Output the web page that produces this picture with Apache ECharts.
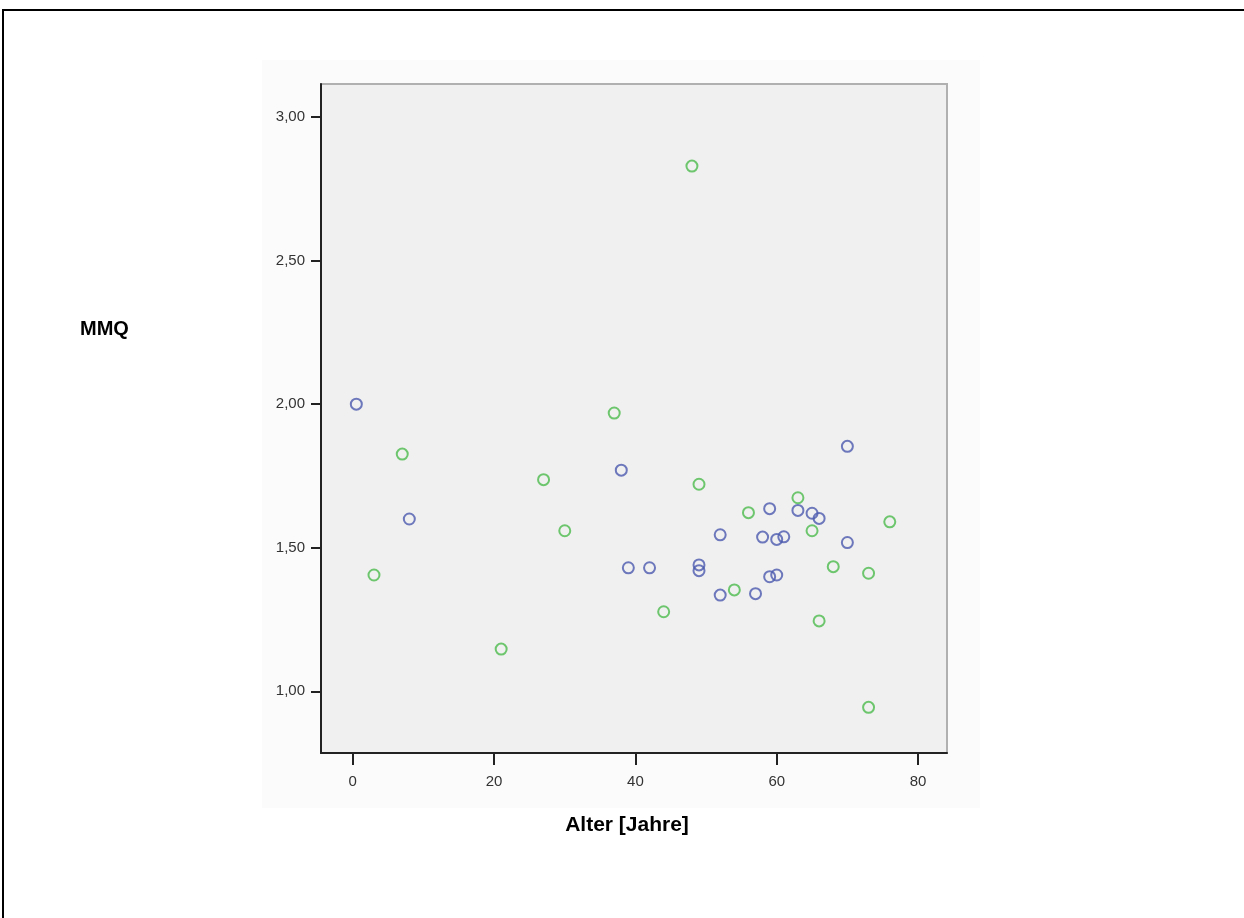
<!DOCTYPE html>
<html>
<head>
<meta charset="utf-8">
<script src="https://cdn.jsdelivr.net/npm/echarts@6/dist/echarts.min.js"></script>
<style>
html,body{margin:0;padding:0;background:#fff;}
#chart{width:1244px;height:918px;}
</style>
</head>
<body>
<div id="chart"></div>
<script>
// Data
var xTicks = [0, 20, 40, 60, 80];
var yTicks = [1.0, 1.5, 2.0, 2.5, 3.0];
var xTitle = 'Alter [Jahre]';
var yTitle = 'MMQ';

// Group 1 (blue): [Alter, MMQ]
var blueAge = [0.5, 8, 38, 39, 42, 49, 49, 52, 52, 57, 58, 59, 59, 60, 60, 61, 63, 65, 66, 70, 70];
var blueMMQ = [2.00, 1.60, 1.77, 1.43, 1.43, 1.44, 1.42, 1.545, 1.335, 1.34, 1.537, 1.636, 1.399, 1.405, 1.529, 1.538, 1.63, 1.62, 1.602, 1.518, 1.853];

// Group 2 (green): [Alter, MMQ]
var greenAge = [3, 7, 21, 27, 30, 37, 48, 49, 44, 54, 56, 63, 65, 68, 66, 73, 73, 76];
var greenMMQ = [1.405, 1.826, 1.147, 1.737, 1.559, 1.969, 2.829, 1.721, 1.277, 1.353, 1.622, 1.674, 1.559, 1.434, 1.245, 1.411, 0.944, 1.59];

function pairs(a, b) { return a.map(function (v, i) { return [v, b[i]]; }); }

var chart = echarts.init(document.getElementById('chart'), null, {renderer: 'canvas'});
var fontFam = '"Liberation Sans", Arial, sans-serif';

var option = {
  animation: false,
  backgroundColor: '#ffffff',
  graphic: [
    {type: 'rect', z: -10, shape: {x: 262, y: 60, width: 718, height: 748}, style: {fill: '#fbfbfb'}},
    {type: 'line', shape: {x1: 2, y1: 10, x2: 1244, y2: 10}, style: {stroke: '#000', lineWidth: 2}},
    {type: 'line', shape: {x1: 3, y1: 9, x2: 3, y2: 918}, style: {stroke: '#000', lineWidth: 2}},
    {type: 'text', left: 80, top: 319, style: {text: yTitle, font: 'bold 20px ' + fontFam, fill: '#000'}}
  ],
  grid: {
    left: 321, top: 84, right: 297, bottom: 165,
    show: true, backgroundColor: '#f0f0f0', borderColor: '#b0b0b0', borderWidth: 2
  },
  xAxis: {
    type: 'value', min: -4.5, max: 84.1,
    name: xTitle, nameLocation: 'middle', nameGap: 62,
    nameTextStyle: {fontFamily: fontFam, fontWeight: 'bold', fontSize: 21, color: '#000', padding: [0, 14, 0, 0]},
    splitLine: {show: false},
    axisLine: {show: true, onZero: false, lineStyle: {color: '#222', width: 2}},
    axisTick: {show: true, length: 12, lineStyle: {color: '#222', width: 2}, customValues: xTicks},
    axisLabel: {margin: 21, fontFamily: fontFam, fontSize: 15, color: '#333', customValues: xTicks,
      formatter: function (v) { return String(v); }}
  },
  yAxis: {
    type: 'value', min: 0.785, max: 3.115,
    splitLine: {show: false},
    axisLine: {show: true, onZero: false, lineStyle: {color: '#222', width: 2}},
    axisTick: {show: true, length: 10, lineStyle: {color: '#222', width: 2}, customValues: yTicks},
    axisLabel: {margin: 16, fontFamily: fontFam, fontSize: 15, color: '#333', customValues: yTicks,
      formatter: function (v) { return v.toFixed(2).replace('.', ','); }}
  },
  series: [
    {
      type: 'scatter', data: pairs(blueAge, blueMMQ), symbol: 'circle', symbolSize: 11,
      itemStyle: {color: 'rgba(0,0,0,0)', borderColor: '#4b5aae', borderWidth: 2}
    },
    {
      type: 'scatter', data: pairs(greenAge, greenMMQ), symbol: 'circle', symbolSize: 11,
      itemStyle: {color: 'rgba(0,0,0,0)', borderColor: '#4cbc4c', borderWidth: 2}
    }
  ]
};
chart.setOption(option);
</script>
</body>
</html>
